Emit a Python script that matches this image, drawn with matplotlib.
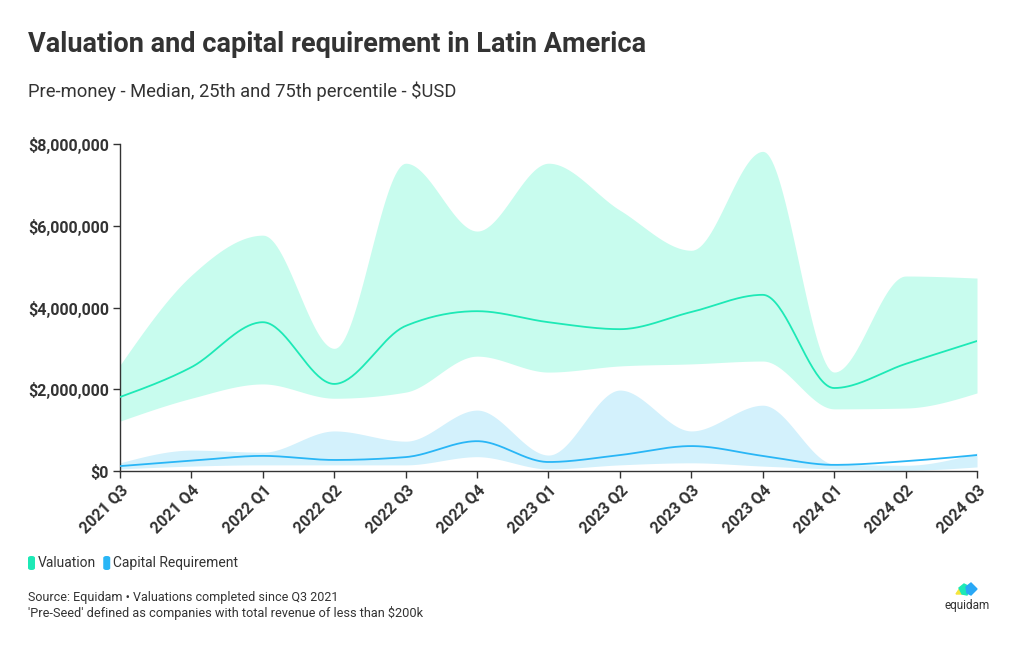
"""
Valuation and capital requirement in Latin America (pre-money, median with
25th-75th percentile band), drawn as smooth monotone curves like the web chart.
"""

import numpy as np
import matplotlib

matplotlib.use("Agg")
import matplotlib.pyplot as plt
from matplotlib.patches import FancyBboxPatch, Polygon
from matplotlib.ticker import FuncFormatter

QUARTERS = [
    "2021 Q3", "2021 Q4", "2022 Q1", "2022 Q2", "2022 Q3", "2022 Q4", "2023 Q1",
    "2023 Q2", "2023 Q3", "2023 Q4", "2024 Q1", "2024 Q2", "2024 Q3",
]

# Valuation, $USD
VAL_MEDIAN = [1.81e6, 2.54e6, 3.64e6, 2.13e6, 3.55e6, 3.91e6, 3.64e6,
              3.47e6, 3.89e6, 4.31e6, 2.03e6, 2.62e6, 3.18e6]
VAL_P75 = [2.59e6, 4.79e6, 5.77e6, 3.00e6, 7.53e6, 5.87e6, 7.53e6,
           6.38e6, 5.40e6, 7.82e6, 2.42e6, 4.77e6, 4.72e6]
VAL_P25 = [1.22e6, 1.78e6, 2.13e6, 1.78e6, 1.93e6, 2.81e6, 2.42e6,
           2.57e6, 2.62e6, 2.69e6, 1.52e6, 1.54e6, 1.91e6]

# Capital requirement, $USD
CAP_MEDIAN = [0.12e6, 0.25e6, 0.37e6, 0.27e6, 0.34e6, 0.73e6, 0.22e6,
              0.39e6, 0.61e6, 0.37e6, 0.15e6, 0.24e6, 0.39e6]
CAP_P75 = [0.20e6, 0.51e6, 0.46e6, 0.98e6, 0.73e6, 1.49e6, 0.39e6,
           1.98e6, 0.98e6, 1.61e6, 0.17e6, 0.14e6, 0.44e6]
CAP_P25 = [0.05e6, 0.12e6, 0.15e6, 0.15e6, 0.15e6, 0.35e6, 0.05e6,
           0.15e6, 0.20e6, 0.12e6, 0.05e6, 0.02e6, 0.10e6]

VAL_LINE, VAL_BAND = "#1de9b6", "#c8fcee"
CAP_LINE, CAP_BAND = "#29b6f6", "#d3f1fc"
TEXT = "#333333"


def monotone(x, y, n=40):
    """Monotone cubic (d3 curveMonotoneX) sampled between the given points."""
    x = np.asarray(x, float)
    y = np.asarray(y, float)
    h = np.diff(x)
    s = np.diff(y) / h
    t = np.zeros_like(y)
    for i in range(1, len(y) - 1):
        p = (s[i - 1] * h[i] + s[i] * h[i - 1]) / (h[i - 1] + h[i])
        t[i] = (np.sign(s[i - 1]) + np.sign(s[i])) * min(
            abs(s[i - 1]), abs(s[i]), 0.5 * abs(p))
    t[0] = (3 * s[0] - t[1]) / 2
    t[-1] = (3 * s[-1] - t[-2]) / 2
    xs, ys = [], []
    for i in range(len(h)):
        u = np.linspace(0, 1, n, endpoint=False)
        h00 = 2 * u**3 - 3 * u**2 + 1
        h10 = u**3 - 2 * u**2 + u
        h01 = -2 * u**3 + 3 * u**2
        h11 = u**3 - u**2
        xs.append(x[i] + u * h[i])
        ys.append(h00 * y[i] + h10 * h[i] * t[i] + h01 * y[i + 1] + h11 * h[i] * t[i + 1])
    xs.append([x[-1]])
    ys.append([y[-1]])
    return np.concatenate(xs), np.concatenate(ys)


def main() -> None:
    plt.rcParams.update({"font.family": ["Roboto", "DejaVu Sans"]})

    fig = plt.figure(figsize=(10.2, 6.5), dpi=100)
    ax = fig.add_axes([120 / 1020, 1 - 471 / 650, 857 / 1020, 327 / 650])

    xi = np.arange(len(QUARTERS))
    for lo, hi, band in [(VAL_P25, VAL_P75, VAL_BAND), (CAP_P25, CAP_P75, CAP_BAND)]:
        xs, ylo = monotone(xi, lo)
        _, yhi = monotone(xi, hi)
        ax.fill_between(xs, ylo, yhi, color=band, lw=0, zorder=1)
    for med, line in [(VAL_MEDIAN, VAL_LINE), (CAP_MEDIAN, CAP_LINE)]:
        xs, ym = monotone(xi, med)
        ax.plot(xs, ym, color=line, lw=1.3, zorder=3)

    ax.set_xlim(0, len(QUARTERS) - 1)
    ax.set_ylim(0, 8e6)
    ax.set_yticks(np.arange(0, 8.01e6, 2e6))
    ax.yaxis.set_major_formatter(FuncFormatter(lambda v, _: f"${v:,.0f}"))
    ax.set_xticks(xi)
    ax.set_xticklabels(QUARTERS, rotation=45, ha="right", rotation_mode="anchor")
    for lab in ax.get_xticklabels() + ax.get_yticklabels():
        lab.set_fontweight("bold")
        lab.set_fontsize(11.5)
        lab.set_color(TEXT)
    ax.tick_params(length=5, width=1, color=TEXT, pad=3)
    for side in ("top", "right"):
        ax.spines[side].set_visible(False)
    for side in ("left", "bottom"):
        ax.spines[side].set_color(TEXT)
        ax.spines[side].set_linewidth(1)

    fig.text(28 / 1020, 1 - 45 / 650, "Valuation and capital requirement in Latin America",
             fontsize=19.5, fontweight="bold", color=TEXT, va="center")
    fig.text(28 / 1020, 1 - 91 / 650, "Pre-money - Median, 25th and 75th percentile - $USD",
             fontsize=13.2, color=TEXT, va="center")

    # legend
    lx, ly = 28, 563
    for label, col in [("Valuation", VAL_LINE), ("Capital Requirement", CAP_LINE)]:
        fig.patches.append(FancyBboxPatch(
            (lx / 1020, 1 - (ly + 7) / 650), 7 / 1020, 14 / 650,
            boxstyle="round,pad=0,rounding_size=0.003", transform=fig.transFigure,
            facecolor=col, edgecolor="none"))
        t = fig.text((lx + 10) / 1020, 1 - ly / 650, label, fontsize=10, color=TEXT, va="center")
        fig.canvas.draw()
        lx = t.get_window_extent().x1 + 7

    fig.text(28 / 1020, 1 - 597 / 650, "Source: Equidam \u2022 Valuations completed since Q3 2021",
             fontsize=9, color=TEXT, va="center")
    fig.text(28 / 1020, 1 - 613 / 650,
             "'Pre-Seed' defined as companies with total revenue of less than $200k",
             fontsize=9.2, color=TEXT, va="center")

    # equidam logo (simple shapes)
    logo = fig.add_axes([940 / 1020, 1 - 616 / 650, 54 / 1020, 34 / 650])
    logo.set_xlim(0, 54)
    logo.set_ylim(34, 0)
    logo.axis("off")
    logo.add_patch(Polygon([[16, 12], [20, 6], [24, 12]], color="#f5e53c"))
    logo.add_patch(Polygon([[19, 6], [24, 2], [30, 5], [27, 13], [22, 12]], color="#1de9b6"))
    logo.add_patch(Polygon([[26, 5], [31, 1], [37, 7], [31, 13], [27, 11]], color="#29a8f6"))
    logo.text(27, 24, "equidam", fontsize=8.5, color=TEXT, ha="center", va="center")

    fig.savefig("out.png", dpi=100)
    plt.close(fig)


if __name__ == "__main__":
    main()
